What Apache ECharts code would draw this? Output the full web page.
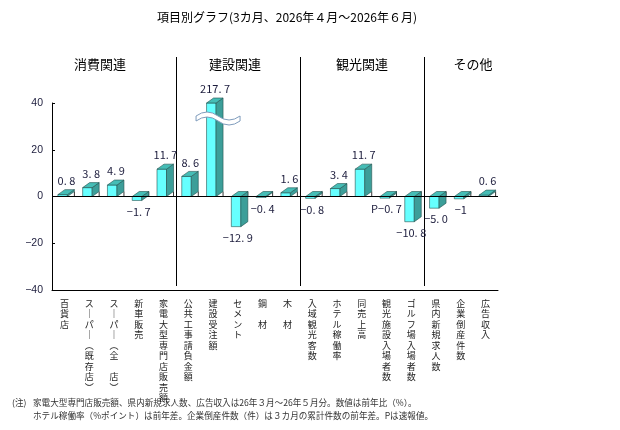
<!DOCTYPE html>
<html>
<head>
<meta charset="utf-8">
<script src="https://cdn.jsdelivr.net/npm/echarts@6/dist/echarts.min.js"></script>
<style>
html, body { margin: 0; padding: 0; background: #fff; }
#main { width: 620px; height: 430px; }
</style>
</head>
<body>
<div id="main"></div>
<script>
var categories = [
  '百貨店', 'スーパー（既存店）', 'スーパー（全　店）', '新車販売', '家電大型専門店販売額',
  '公共工事請負金額', '建設受注額', 'セメント', '鋼　材', '木　材',
  '入域観光客数', 'ホテル稼働率', '同売上高', '観光施設入場者数', 'ゴルフ場入場者数',
  '県内新規求人数', '企業倒産件数', '広告収入'
];
var values = [0.8, 3.8, 4.9, -1.7, 11.7, 8.6, 217.7, -12.9, -0.4, 1.6, -0.8, 3.4, 11.7, -0.7, -10.8, -5.0, -1, 0.6];
var valueLabels = ['0. 8', '3. 8', '4. 9', '−1. 7', '11. 7', '8. 6', '217. 7', '−12. 9', '−0. 4', '1. 6',
  '−0. 8', '3. 4', '11. 7', 'P−0. 7', '−10. 8', '−5. 0', '−1', '0. 6'];
var groupNames = ['消費関連', '建設関連', '観光関連', 'その他'];
var groupStarts = [0, 5, 10, 15];
var yMin = -40, yMax = 40, yStep = 20;

var chart = echarts.init(document.getElementById('main'));
var jpFont = '"Noto Sans CJK JP", sans-serif';

// 縦書き用に長音・括弧を置き換える
function vertical(s) {
  return s.replace(/ー/g, '｜').replace(/（/g, '︵').replace(/）/g, '︶').split('').join('\n');
}

function renderBar(params, api) {
  var i = api.value(0), v = api.value(1);
  var vv = Math.max(yMin, Math.min(yMax, v));
  var base = api.coord([i, 0]);
  var end = api.coord([i, vv]);
  var c = base[0];
  var x0 = c - 6.5, x1 = c + 3, dx = 7, dy = 5;
  var yTop = Math.min(base[1], end[1]), yBot = Math.max(base[1], end[1]);
  var edge = { stroke: '#24524f', lineWidth: 0.6 };
  var kids = [
    { type: 'line', shape: { x1: x1 + dx, y1: base[1] - dy, x2: x1 + dx, y2: base[1] }, style: { stroke: '#000', lineWidth: 0.8 } },
    { type: 'rect', shape: { x: x0, y: yTop, width: x1 - x0, height: yBot - yTop },
      style: Object.assign({ fill: '#66ffff' }, edge) },
    { type: 'polygon', shape: { points: [[x1, yTop], [x1 + dx, yTop - dy], [x1 + dx, yBot - dy], [x1, yBot]] },
      style: Object.assign({ fill: '#3c9e99' }, edge) },
    { type: 'polygon', shape: { points: [[x0, yTop], [x1, yTop], [x1 + dx, yTop - dy], [x0 + dx, yTop - dy]] },
      style: Object.assign({ fill: '#45bdb6' }, edge) }
  ];
  if (v > yMax) {
    // 省略記号（波線）
    var wy = end[1] + 13, xl = c - 17, w = 44;
    var p = 'M' + xl + ' ' + wy +
      ' Q' + (xl + w / 4) + ' ' + (wy - 8) + ' ' + (xl + w / 2) + ' ' + wy +
      ' Q' + (xl + 3 * w / 4) + ' ' + (wy + 8) + ' ' + (xl + w) + ' ' + wy +
      ' L' + (xl + w) + ' ' + (wy + 5) +
      ' Q' + (xl + 3 * w / 4) + ' ' + (wy + 13) + ' ' + (xl + w / 2) + ' ' + (wy + 5) +
      ' Q' + (xl + w / 4) + ' ' + (wy - 3) + ' ' + xl + ' ' + (wy + 5) + ' Z';
    kids.push({ type: 'path', shape: { pathData: p }, style: { fill: '#fff', stroke: '#7f9cbc', lineWidth: 1 } });
  }
  kids.push({
    type: 'text',
    style: {
      text: valueLabels[params.dataIndex],
      x: v >= 0 ? c + 2 : c,
      y: v >= 0 ? yTop - 14 : yBot + 11,
      align: 'center', verticalAlign: 'middle',
      fill: '#1c1c3c', fontSize: 11, fontFamily: jpFont
    }
  });
  return { type: 'group', children: kids };
}

var option = {
  animation: false,
  grid: { left: 52, right: 122, top: 103, bottom: 140 },
  xAxis: {
    type: 'category',
    data: categories,
    axisLine: { onZero: false, lineStyle: { color: '#000', width: 1 } },
    axisTick: { show: false },
    axisLabel: {
      interval: 0, margin: 8, fontSize: 9, lineHeight: 10.5,
      color: '#222', fontFamily: jpFont,
      formatter: vertical
    }
  },
  yAxis: {
    type: 'value',
    min: yMin, max: yMax, interval: yStep,
    axisLine: { show: true, lineStyle: { color: '#000' } },
    axisTick: { show: true, inside: true, length: 3, lineStyle: { color: '#000' } },
    splitLine: { show: false },
    axisLabel: {
      fontSize: 10.5, color: '#1c1c3c', margin: 9, fontFamily: 'Liberation Sans, sans-serif',
      formatter: function (v) { return String(v).replace('-', '−'); }
    }
  },
  series: [{
    type: 'custom',
    renderItem: renderBar,
    data: values.map(function (v, i) { return [i, v]; }),
    markLine: {
      silent: true, symbol: 'none', label: { show: false },
      lineStyle: { color: '#000', type: 'solid', width: 1 },
      data: [{ yAxis: 0 }]
    },
    z: 3
  }],
  graphic: [
    { type: 'text', left: 157, top: 11, style: { text: '項目別グラフ(3カ月、2026年４月～2026年６月)', fontSize: 12, fill: '#000', fontFamily: jpFont } },
    { type: 'text', left: 12, top: 398, style: { text: '(注)', fontSize: 8.6, fill: '#333', fontFamily: jpFont } },
    { type: 'text', left: 33, top: 398, style: { text: '家電大型専門店販売額、県内新規求人数、広告収入は26年３月～26年５月分。数値は前年比（%）。', fontSize: 8.6, fill: '#333', fontFamily: jpFont } },
    { type: 'text', left: 33, top: 411, style: { text: 'ホテル稼働率（%ポイント）は前年差。企業倒産件数（件）は３カ月の累計件数の前年差。Pは速報値。', fontSize: 8.6, fill: '#333', fontFamily: jpFont } }
  ]
};

chart.setOption(option);

// 区切り線と見出し
var headerX = [100, 235, 362, 473];
var extra = [];
groupStarts.forEach(function (s, g) {
  if (g > 0) {
    var xa = chart.convertToPixel({ xAxisIndex: 0 }, s - 1);
    var xb = chart.convertToPixel({ xAxisIndex: 0 }, s);
    var xs = Math.round((xa + xb) / 2) + 0.5;
    extra.push({ type: 'line', shape: { x1: xs, y1: 57, x2: xs, y2: 286 }, style: { stroke: '#000', lineWidth: 1 } });
  }
  extra.push({
    type: 'text', x: headerX[g], y: 64,
    style: { text: groupNames[g], fontSize: 13, fontWeight: 'normal', fill: '#000', fontFamily: jpFont, align: 'center', verticalAlign: 'middle' }
  });
});
chart.setOption({ graphic: option.graphic.concat(extra) });
</script>
</body>
</html>
